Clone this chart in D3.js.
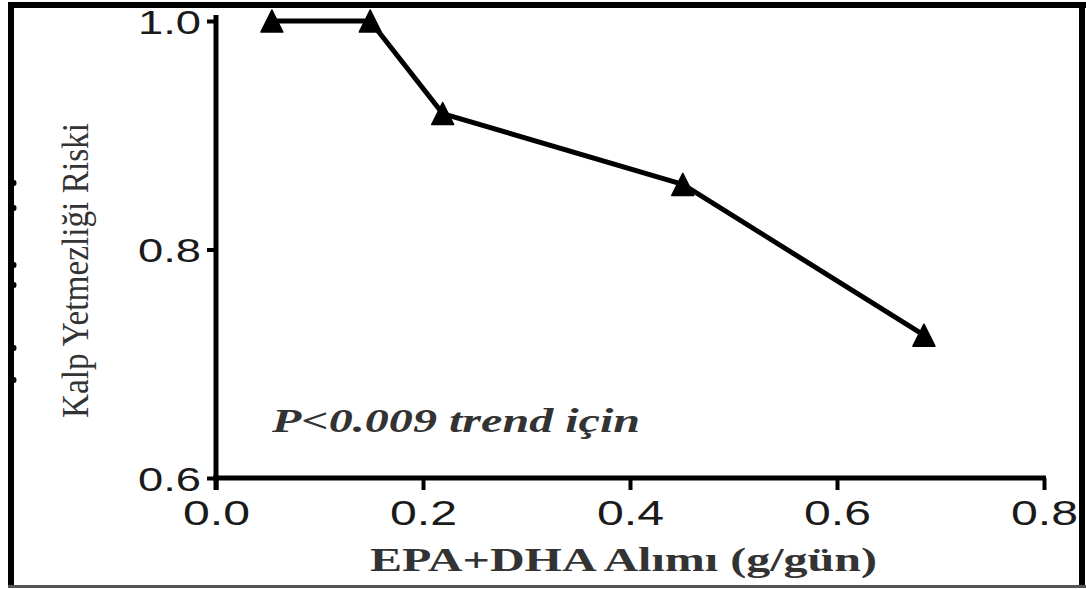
<!DOCTYPE html>
<html>
<head>
<meta charset="utf-8">
<script src="https://cdn.jsdelivr.net/npm/d3@7"></script>
<style>
  html, body { margin: 0; padding: 0; background: #fff; overflow: hidden; }
  svg { display: block; }
</style>
</head>
<body>
<svg id="chart" width="1086" height="589"></svg>
<script>
// EPA+DHA intake vs. heart-failure risk
const intake = [0.054, 0.149, 0.219, 0.451, 0.684];   // g/gün
const risk   = [1.0, 1.0, 0.919, 0.857, 0.725];

const xTicks = [0.0, 0.2, 0.4, 0.6, 0.8];
const yTicks = [0.6, 0.8, 1.0];

const xTitle = "EPA+DHA Alımı (g/gün)";
const yTitle = "Kalp Yetmezliği Riski";
const note = "P<0.009 trend için";

const svg = d3.select("#chart");

const x = d3.scaleLinear().domain([0, 0.8]).range([216, 1044]);
const y = d3.scaleLinear().domain([0.6, 1.0]).range([478, 21]);

// outer frame
const frame = svg.append("g");
frame.append("rect").attr("x", 8).attr("y", 2).attr("width", 6).attr("height", 586).attr("fill", "#000");
frame.append("rect").attr("x", 8).attr("y", 2).attr("width", 1078).attr("height", 6).attr("fill", "#000");
frame.append("rect").attr("x", 1079).attr("y", 2).attr("width", 6).attr("height", 586).attr("fill", "#000");
frame.append("rect").attr("x", 8).attr("y", 585).attr("width", 1078).attr("height", 3).attr("fill", "#555");

// axes
const xAxis = d3.axisBottom(x).tickValues(xTicks).tickSize(12).tickSizeOuter(0)
  .tickFormat(d3.format(".1f"));
const yAxis = d3.axisLeft(y).tickValues(yTicks).tickSize(9).tickSizeOuter(0)
  .tickFormat(d3.format(".1f"));

const gx = svg.append("g").attr("transform", `translate(0,${y(0.6)})`).call(xAxis);
const gy = svg.append("g").attr("transform", `translate(${x(0)},0)`).call(yAxis);

[gx, gy].forEach(g => {
  g.select(".domain").attr("stroke", "#000").attr("stroke-width", 5);
  g.selectAll(".tick line").attr("stroke", "#000").attr("stroke-width", 4);
  g.selectAll(".tick text")
    .attr("fill", "#1a1a1a")
    .attr("font-family", "'Liberation Sans', Arial, sans-serif")
    .attr("lengthAdjust", "spacingAndGlyphs");
});
gy.select(".domain").attr("d", `M0,${y(1.0) - 6}V${y(0.6) + 12}`);
gx.select(".domain").attr("d", `M${x(0) - 3},0H${x(0.8) + 2}`);

gx.selectAll(".tick text").attr("y", 22).attr("dy", "0.71em")
  .attr("font-size", 35).attr("textLength", 67);
gy.selectAll(".tick text").attr("x", -15).attr("dy", "0.36em")
  .attr("font-size", 34).attr("textLength", 63);

// data line
const line = d3.line().x((d, i) => x(intake[i])).y(d => y(d));
svg.append("path").datum(risk)
  .attr("d", line)
  .attr("fill", "none").attr("stroke", "#000")
  .attr("stroke-width", 5).attr("stroke-linejoin", "round");

// triangle markers
const tri = "M0,-11L11,11L-11,11Z";
svg.selectAll("path.marker").data(risk).join("path")
  .attr("class", "marker")
  .attr("d", tri)
  .attr("transform", (d, i) => `translate(${x(intake[i])},${y(d)})`)
  .attr("fill", "#000").attr("stroke", "#000").attr("stroke-width", 1.5)
  .attr("stroke-linejoin", "round");

// trend note
svg.append("text")
  .attr("x", 272).attr("y", 432)
  .attr("font-family", "'Liberation Serif', 'Times New Roman', serif")
  .attr("font-style", "italic").attr("font-weight", "bold")
  .attr("font-size", 34).attr("fill", "#333")
  .attr("textLength", 368).attr("lengthAdjust", "spacingAndGlyphs")
  .text(note);

// axis titles
svg.append("text")
  .attr("x", 370).attr("y", 571)
  .attr("font-family", "'Liberation Serif', 'Times New Roman', serif")
  .attr("font-weight", "bold").attr("font-size", 33).attr("fill", "#333")
  .attr("textLength", 507).attr("lengthAdjust", "spacingAndGlyphs")
  .text(xTitle);

svg.append("text")
  .attr("transform", "translate(88,418) rotate(-90)")
  .attr("x", 0).attr("y", 0)
  .attr("font-family", "'Liberation Serif', 'Times New Roman', serif")
  .attr("font-size", 38).attr("fill", "#333")
  .attr("textLength", 295).attr("lengthAdjust", "spacingAndGlyphs")
  .text(yTitle);

// small nicks along the left edge of the frame
svg.append("g").selectAll("ellipse").data([183, 208, 265, 285, 348, 380]).join("ellipse")
  .attr("cx", 14).attr("cy", d => d).attr("rx", 2.5).attr("ry", 3)
  .attr("fill", "#000");
</script>
</body>
</html>
